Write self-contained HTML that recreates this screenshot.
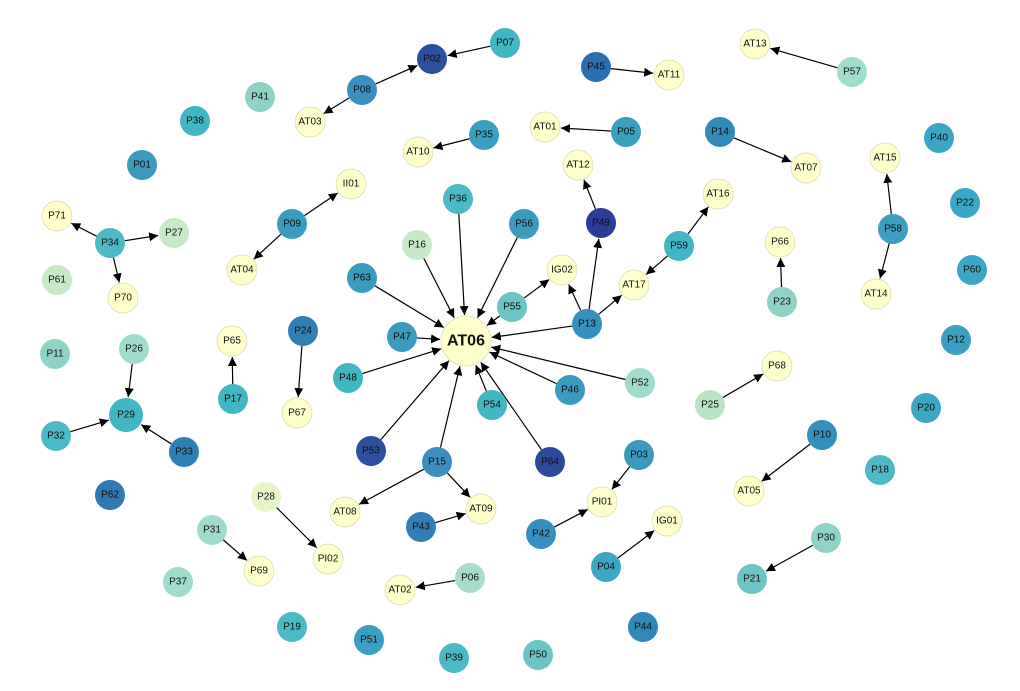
<!DOCTYPE html>
<html><head><meta charset="utf-8"><style>body{margin:0;background:#fff}svg{display:block}text{font-family:"Liberation Sans",Arial,sans-serif;font-size:10px;text-anchor:middle;dominant-baseline:central;fill:#111}</style></head>
<body>
<svg id="s" width="1020" height="691" viewBox="0 0 1020 691" xmlns="http://www.w3.org/2000/svg">
<defs><marker id="a" viewBox="0 0 10 10" refX="10" refY="5" markerWidth="9" markerHeight="9" markerUnits="userSpaceOnUse" orient="auto"><path d="M0,0L10,5L0,10z" fill="#000"/></marker></defs>
<g id="e"></g><g id="n"></g>
</svg>
<script>
const Y='#ffffcc';
const N={P07:[505,43,'#41b6c4'],P02:[432,59,'#2c4f9e'],P08:[362,90,'#3a8fc0'],AT03:[310,122,Y],P41:[260,97,'#8fd3c7'],P38:[195,121,'#41b6c4'],P01:[142,165,'#3a9bbf'],P45:[596,67,'#2c6fb0'],AT11:[669,75,Y],AT01:[545,127,Y],P05:[626,132,'#3aa0c0'],P35:[484,135,'#3a9fc0'],AT10:[418,152,Y],AT13:[755,44,Y],P57:[852,72,'#a0dccc'],P14:[720,132,'#2f8ab9'],AT07:[806,168,Y],P40:[939,138,'#3aa8c5'],AT15:[885,158,Y],P22:[965,203,'#3aa8c5'],P58:[893,229,'#3a9fc0'],AT14:[876,294,Y],P60:[972,270,'#3aa8c5'],P12:[956,340,'#3a9fc0'],P20:[926,408,'#3aa8c5'],P18:[880,470,'#4bbac6'],P10:[822,435,'#3590bd'],AT05:[749,491,Y],P30:[826,538,'#8fd3c7'],P21:[752,579,'#6cc5c5'],P44:[643,627,'#2f88b8'],P50:[538,655,'#6cc5c5'],P39:[454,658,'#4bbac6'],P51:[369,640,'#3a9fc0'],P19:[292,627,'#4bbac6'],P37:[178,582,'#a0dccc'],P69:[259,571,Y],P31:[212,530,'#a0dccc'],P28:[266,497,'#e6f5c8'],PI02:[328,559,Y],AT02:[400,590,Y],P06:[470,578,'#a7ddc8'],P43:[421,527,'#3180b5'],AT09:[481,509,Y],AT08:[345,512,Y],P15:[437,462,'#3a8fc0'],P53:[371,451,'#2c4f9e'],P64:[550,462,'#2c4a9c'],P03:[639,455,'#3a9bbf'],PI01:[602,502,Y],P42:[541,534,'#3590bd'],P04:[606,567,'#3aa8c5'],IG01:[667,521,Y],P25:[710,405,'#b8e4c4'],P68:[777,366,Y],P52:[640,383,'#a0dccc'],P46:[570,390,'#3a9bbf'],P54:[492,405,'#41b6c4'],P48:[348,378,'#41b6c4'],P47:[402,337,'#3a9bbf'],AT06:[466,341,Y,25],P63:[362,278,'#3a9bbf'],P16:[417,245,'#c7e9c8'],P36:[458,199,'#4bbac6'],P56:[524,224,'#3a9bbf'],P55:[512,307,'#6cc5c5'],IG02:[562,270,Y],P13:[587,324,'#3590bd'],P49:[601,223,'#2b3c99'],AT12:[578,165,Y],AT17:[634,285,Y],P59:[679,246,'#41b6c4'],AT16:[718,194,Y],P66:[780,242,Y],P23:[782,302,'#8fd3c7'],P24:[303,331,'#3180b5'],P67:[297,413,Y],P65:[232,341,Y],P17:[233,399,'#41b6c4'],P09:[292,224,'#3a9bbf'],II01:[351,184,Y],AT04:[242,270,Y],P34:[110,243,'#4bbac6'],P71:[57,216,Y],P27:[174,233,'#c7e9c8'],P70:[123,298,Y],P61:[57,280,'#c7e9c8'],P11:[55,354,'#8fd3c7'],P26:[134,349,'#a0dccc'],P29:[126,415,'#41b6c4',17],P32:[56,436,'#4bbac6'],P33:[184,452,'#2f80b5'],P62:[110,495,'#2f7ab3']};
const E='P07 P02,P08 P02,P08 AT03,P45 AT11,P05 AT01,P35 AT10,P57 AT13,P14 AT07,P58 AT15,P58 AT14,P10 AT05,P30 P21,P04 IG01,P03 PI01,P42 PI01,P06 AT02,P43 AT09,P15 AT09,P15 AT08,P15 AT06,P28 PI02,P31 P69,P25 P68,P23 P66,P59 AT16,P59 AT17,P13 AT17,P13 P49,P49 AT12,P13 IG02,P55 IG02,P13 AT06,P52 AT06,P46 AT06,P64 AT06,P54 AT06,P53 AT06,P48 AT06,P47 AT06,P63 AT06,P16 AT06,P36 AT06,P56 AT06,P55 AT06,P24 P67,P17 P65,P09 II01,P09 AT04,P34 P71,P34 P27,P34 P70,P26 P29,P32 P29,P33 P29';
const ns='http://www.w3.org/2000/svg';let eg=document.getElementById('e'),ng=document.getElementById('n');
E.split(',').forEach(p=>{let[a,b]=p.split(' ');let A=N[a],B=N[b];let dx=B[0]-A[0],dy=B[1]-A[1],d=Math.hypot(dx,dy);let ra=A[3]||15,rb=(B[3]||15)+1;let l=document.createElementNS(ns,'line');l.setAttribute('x1',A[0]+dx/d*ra);l.setAttribute('y1',A[1]+dy/d*ra);l.setAttribute('x2',B[0]-dx/d*rb);l.setAttribute('y2',B[1]-dy/d*rb);l.setAttribute('stroke','#000');l.setAttribute('stroke-width','1.2');l.setAttribute('marker-end','url(#a)');eg.appendChild(l);});
for(let k in N){let v=N[k];let c=document.createElementNS(ns,'circle');c.setAttribute('cx',v[0]);c.setAttribute('cy',v[1]);c.setAttribute('r',v[3]||15);c.setAttribute('fill',v[2]);c.setAttribute('stroke',v[2]==Y?'#d8d8b0':'none');c.setAttribute('stroke-width','0.7');ng.appendChild(c);let t=document.createElementNS(ns,'text');t.setAttribute('x',v[0]);t.setAttribute('y',v[1]);t.textContent=k;if(k=='AT06'){t.setAttribute('style','font-size:16px;font-weight:bold');}ng.appendChild(t);}
</script>
</body></html>
